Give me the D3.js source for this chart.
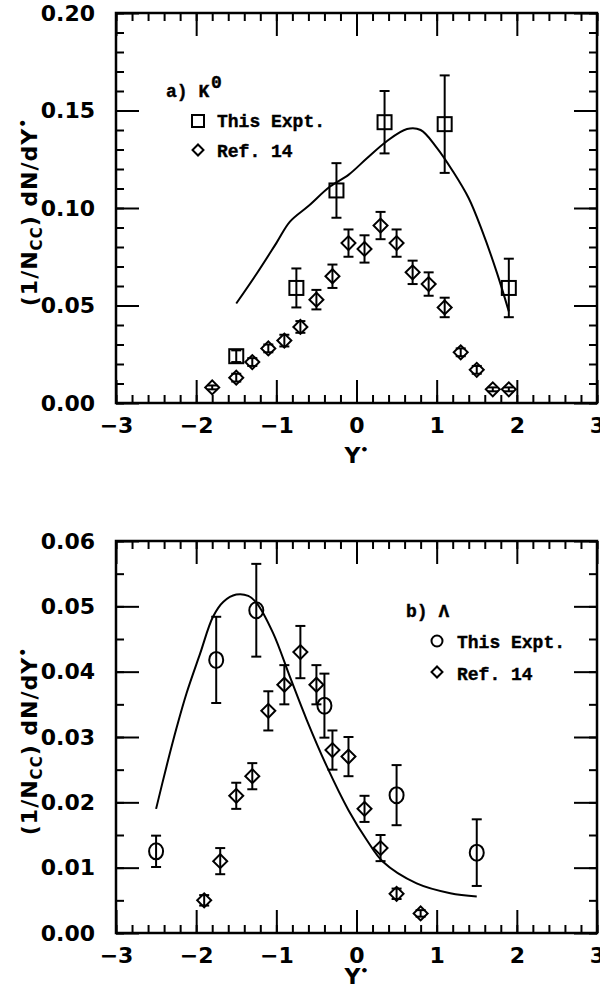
<html>
  <head>
    <meta charset="utf-8">
    <title>K0 and Lambda rapidity</title>
    <script type="text/javascript" src="https://cdn.jsdelivr.net/npm/d3@7"></script>
    <style type="text/css">

body {
  margin: 0;
  background: #fff;
}

.axis text {
  font: bold 22px "DejaVu Sans", sans-serif;
  fill: #000;
}

.axis line {
  stroke: #000;
  stroke-width: 2px;
}

.frame {
  fill: none;
  stroke: #000;
  stroke-width: 2.5px;
}

.curve {
  fill: none;
  stroke: #000;
  stroke-width: 2px;
}

.err line {
  stroke: #000;
  stroke-width: 2px;
}

.sym {
  fill: none;
  stroke: #000;
  stroke-width: 2px;
}

.title {
  font: bold 22px "DejaVu Sans", sans-serif;
  fill: #000;
}

.legend {
  font: bold 18px "Liberation Mono", monospace;
  fill: #000;
  stroke: #000;
  stroke-width: 0.4px;
}

    </style>
  </head>
  <body>
    <script type="text/javascript">

// x ticks shared by both panels
var xMajor = [-3, -2, -1, 0, 1, 2, 3];

// panel a) K0
var k0Y    = [-1.5, -0.75, -0.25, 0.35, 1.1, 1.9];
var k0Val  = [0.024, 0.059, 0.109, 0.144, 0.143, 0.059];
var k0Err  = [0.003, 0.010, 0.014, 0.016, 0.025, 0.015];

var k0RefY   = [-1.8, -1.5, -1.3, -1.1, -0.9, -0.7, -0.5, -0.3, -0.1, 0.1, 0.3, 0.5, 0.7, 0.9, 1.1, 1.3, 1.5, 1.7, 1.9];
var k0RefVal = [0.008, 0.013, 0.021, 0.028, 0.032, 0.039, 0.053, 0.065, 0.082, 0.079, 0.091, 0.082, 0.067, 0.061, 0.049, 0.026, 0.017, 0.007, 0.007];
var k0RefErr = [0.001, 0.002, 0.002, 0.002, 0.003, 0.003, 0.005, 0.006, 0.007, 0.007, 0.007, 0.007, 0.006, 0.006, 0.005, 0.002, 0.002, 0.001, 0.001];

var k0CurveY   = [-1.5, -1.25, -1.0, -0.83, -0.6, -0.33, -0.1, 0.13, 0.37, 0.63, 0.8, 1.0, 1.2, 1.4, 1.57, 1.75, 1.9];
var k0CurveVal = [0.051, 0.066, 0.082, 0.093, 0.101, 0.111, 0.117, 0.1255, 0.134, 0.1405, 0.140, 0.131, 0.119, 0.105, 0.088, 0.067, 0.047];
var k0YTicks   = [0, 0.05, 0.10, 0.15, 0.20];

// panel b) Lambda
var lamY   = [-2.5, -1.75, -1.25, -0.4, 0.5, 1.5];
var lamVal = [0.0125, 0.0418, 0.0494, 0.0348, 0.0211, 0.0123];
var lamErr = [0.0024, 0.0066, 0.0071, 0.0049, 0.0046, 0.0051];

var lamRefY   = [-1.9, -1.7, -1.5, -1.3, -1.1, -0.9, -0.7, -0.5, -0.3, -0.1, 0.1, 0.3, 0.5, 0.8];
var lamRefVal = [0.005, 0.011, 0.021, 0.024, 0.034, 0.038, 0.043, 0.038, 0.028, 0.027, 0.019, 0.013, 0.006, 0.003];
var lamRefErr = [0.0008, 0.002, 0.002, 0.002, 0.003, 0.003, 0.004, 0.003, 0.003, 0.003, 0.002, 0.002, 0.0008, 0.0005];

var lamCurveY   = [-2.5, -2.37, -2.24, -2.12, -1.95, -1.79, -1.66, -1.5, -1.35, -1.245, -1.04, -0.83, -0.62, -0.37, -0.1, 0.13, 0.33, 0.75, 1.17, 1.5];
var lamCurveVal = [0.019, 0.0255, 0.0316, 0.0367, 0.0428, 0.0484, 0.0507, 0.0518, 0.0516, 0.0505, 0.0459, 0.0392, 0.0326, 0.0255, 0.0188, 0.0142, 0.0109, 0.0076, 0.0061, 0.0056];
var lamYTicks   = [0, 0.01, 0.02, 0.03, 0.04, 0.05, 0.06];

var svg = d3.select("body")
  .append("svg")
    .attr("width", 600)
    .attr("height", 987);

var diamond = d3.symbol().type(d3.symbolSquare).size(98);

function drawPanel(o) {
  var w = 481, h = o.h;
  var g = svg.append("g")
      .attr("transform", "translate(116," + o.top + ")");

  var x = d3.scaleLinear().domain([-3, 3]).range([0, w]);
  var y = d3.scaleLinear().domain([0, o.ymax]).range([h, 0]);

  var xMinor = d3.range(-15, 16).map(function(i) { return i / 5; });
  var yMinor = d3.range(0, Math.round(o.ymax / o.yMinorStep) + 1).map(function(i) { return i * o.yMinorStep; });
  var noLabel = function() { return ""; };
  var strip = function(s) { s.select(".domain").remove(); };

  // minor ticks on all four sides
  g.append("g").attr("class", "axis").attr("transform", "translate(0," + h + ")")
      .call(d3.axisBottom(x).tickValues(xMinor).tickSize(-8).tickFormat(noLabel)).call(strip);
  g.append("g").attr("class", "axis")
      .call(d3.axisTop(x).tickValues(xMinor).tickSize(-8).tickFormat(noLabel)).call(strip);
  g.append("g").attr("class", "axis")
      .call(d3.axisLeft(y).tickValues(yMinor).tickSize(-8).tickFormat(noLabel)).call(strip);
  g.append("g").attr("class", "axis").attr("transform", "translate(" + w + ",0)")
      .call(d3.axisRight(y).tickValues(yMinor).tickSize(-8).tickFormat(noLabel)).call(strip);

  // major ticks, labelled on bottom and left
  g.append("g").attr("class", "axis").attr("transform", "translate(0," + h + ")")
      .call(d3.axisBottom(x).tickValues(xMajor).tickSize(-23).tickPadding(14).tickFormat(d3.format("d"))).call(strip);
  g.append("g").attr("class", "axis")
      .call(d3.axisTop(x).tickValues(xMajor).tickSize(-23).tickFormat(noLabel)).call(strip);
  g.append("g").attr("class", "axis")
      .call(d3.axisLeft(y).tickValues(o.yTicks).tickSize(-23).tickPadding(21).tickFormat(d3.format(".2f"))).call(strip);
  g.append("g").attr("class", "axis").attr("transform", "translate(" + w + ",0)")
      .call(d3.axisRight(y).tickValues(o.yTicks).tickSize(-23).tickFormat(noLabel)).call(strip);

  g.append("rect")
      .attr("class", "frame")
      .attr("width", w)
      .attr("height", h);

  // model curve
  var line = d3.line()
      .x(function(d) { return x(d[0]); })
      .y(function(d) { return y(d[1]); })
      .curve(d3.curveCatmullRom.alpha(0.5));
  g.append("path")
      .attr("class", "curve")
      .attr("d", line(d3.zip(o.curveY, o.curveVal)));

  // error bars, then symbols on top
  function errors(xs, vs, es) {
    var e = g.append("g").attr("class", "err").selectAll("g")
        .data(d3.zip(xs, vs, es))
      .enter().append("g");
    e.append("line")
        .attr("x1", function(d) { return x(d[0]); })
        .attr("x2", function(d) { return x(d[0]); })
        .attr("y1", function(d) { return y(d[1] - d[2]); })
        .attr("y2", function(d) { return y(d[1] + d[2]); });
    [-1, 1].forEach(function(s) {
      e.append("line")
          .attr("x1", function(d) { return x(d[0]) - 5; })
          .attr("x2", function(d) { return x(d[0]) + 5; })
          .attr("y1", function(d) { return y(d[1] + s * d[2]); })
          .attr("y2", function(d) { return y(d[1] + s * d[2]); });
    });
  }
  errors(o.refY, o.refVal, o.refErr);
  errors(o.ptY, o.ptVal, o.ptErr);

  g.selectAll("path.ref")
      .data(d3.zip(o.refY, o.refVal))
    .enter().append("path")
      .attr("class", "sym ref")
      .attr("d", diamond)
      .attr("transform", function(d) { return "translate(" + x(d[0]) + "," + y(d[1]) + ") rotate(45)"; });

  var pts = d3.zip(o.ptY, o.ptVal);
  if (o.marker === "square") {
    g.selectAll("rect.pt")
        .data(pts)
      .enter().append("rect")
        .attr("class", "sym pt")
        .attr("x", function(d) { return x(d[0]) - 7; })
        .attr("y", function(d) { return y(d[1]) - 7; })
        .attr("width", 14)
        .attr("height", 14);
  } else {
    g.selectAll("ellipse.pt")
        .data(pts)
      .enter().append("ellipse")
        .attr("class", "sym pt")
        .attr("cx", function(d) { return x(d[0]); })
        .attr("cy", function(d) { return y(d[1]); })
        .attr("rx", 7)
        .attr("ry", 8);
  }

  // axis titles
  var yt = svg.append("text")
      .attr("class", "title")
      .attr("text-anchor", "middle")
      .attr("letter-spacing", 1)
      .attr("transform", "translate(37," + (o.top + h / 2 + 4) + ") rotate(-90)");
  yt.append("tspan").text("(1/N");
  yt.append("tspan").attr("dy", 5).attr("font-size", 15).text("CC");
  yt.append("tspan").attr("dy", -5).text(") dN/dY");
  yt.append("tspan").attr("dy", -9).attr("font-size", 14).text("\u2022");

  var xt = g.append("text")
      .attr("class", "title")
      .attr("font-size", 20)
      .attr("x", x(0))
      .attr("y", h + o.xTitleGap)
      .attr("text-anchor", "middle");
  xt.append("tspan").text("Y");
  xt.append("tspan").attr("dy", -9).attr("font-size", 13).text("\u2022");
}

drawPanel({
  top: 13, h: 390, ymax: 0.20, yMinorStep: 0.01, yTicks: k0YTicks, xTitleGap: 60,
  ptY: k0Y, ptVal: k0Val, ptErr: k0Err, marker: "square",
  refY: k0RefY, refVal: k0RefVal, refErr: k0RefErr,
  curveY: k0CurveY, curveVal: k0CurveVal
});

drawPanel({
  top: 541, h: 392, ymax: 0.06, yMinorStep: 0.005, yTicks: lamYTicks, xTitleGap: 51,
  ptY: lamY, ptVal: lamVal, ptErr: lamErr, marker: "circle",
  refY: lamRefY, refVal: lamRefVal, refErr: lamRefErr,
  curveY: lamCurveY, curveVal: lamCurveVal
});

// legends
svg.append("text").attr("class", "legend").attr("x", 166).attr("y", 97).text("a) K");
svg.append("text").attr("class", "legend").attr("x", 211).attr("y", 88).attr("font-size", 13).text("0");
svg.append("rect").attr("class", "sym").attr("x", 192).attr("y", 115).attr("width", 12).attr("height", 12);
svg.append("text").attr("class", "legend").attr("x", 217).attr("y", 127).text("This Expt.");
svg.append("path").attr("class", "sym").attr("d", d3.symbol().type(d3.symbolSquare).size(60))
    .attr("transform", "translate(198,150) rotate(45)");
svg.append("text").attr("class", "legend").attr("x", 217).attr("y", 157).text("Ref. 14");

svg.append("text").attr("class", "legend").attr("x", 406).attr("y", 617).text("b) \u039b");
svg.append("circle").attr("class", "sym").attr("cx", 437).attr("cy", 641).attr("r", 5.5);
svg.append("text").attr("class", "legend").attr("x", 457).attr("y", 648).text("This Expt.");
svg.append("path").attr("class", "sym").attr("d", d3.symbol().type(d3.symbolSquare).size(60))
    .attr("transform", "translate(437,672) rotate(45)");
svg.append("text").attr("class", "legend").attr("x", 457).attr("y", 680).text("Ref. 14");

    </script>
  </body>
</html>
